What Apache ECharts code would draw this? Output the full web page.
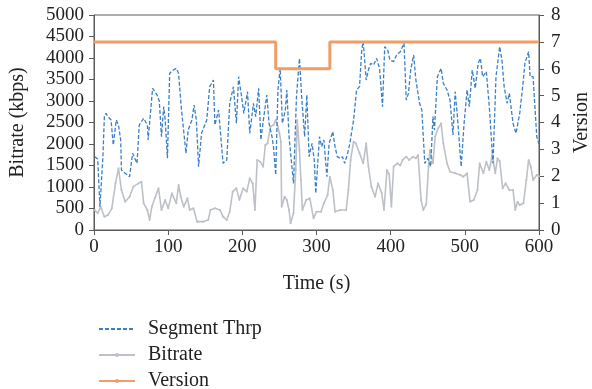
<!DOCTYPE html>
<html>
<head>
<meta charset="utf-8">
<script src="https://cdn.jsdelivr.net/npm/echarts@6/dist/echarts.min.js"></script>
<style>
  html, body { margin: 0; padding: 0; background: #fff; }
  #chart { width: 592px; height: 389px; }
</style>
</head>
<body>
<div id="chart"></div>
<script>
// segment throughput (kbps)
const thrpT = [1, 5, 8, 12, 14, 16, 19, 23, 26, 30, 33, 36, 37, 42, 48, 52, 58, 61, 67, 72, 73, 79, 85, 88, 91, 94, 96, 99,
  102, 107, 111, 114, 118, 124, 127, 132, 135, 138, 141, 145, 152, 156, 161, 163, 168, 174, 179, 183, 188, 192, 195, 199,
  202, 207, 210, 215, 218, 222, 225, 229, 233, 236, 240, 242, 245, 248, 251, 254, 258, 260, 263, 269, 273, 277, 280, 284,
  287, 290, 294, 297, 299, 304, 307, 310, 314, 317, 322, 325, 328, 332, 335, 338, 342, 345, 350, 354, 358, 361, 363, 367,
  370, 373, 377, 381, 385, 389, 392, 396, 399, 404, 408, 413, 418, 421, 424, 427, 431, 434, 439, 442, 446, 450, 454, 457,
  459, 463, 468, 471, 476, 480, 484, 487, 490, 495, 499, 503, 506, 510, 514, 518, 521, 524, 529, 533, 538, 542, 547, 550,
  553, 557, 560, 565, 569, 574, 578, 581, 586, 588, 592, 597, 600];
const thrpV = [1705, 1650, 542, 1700, 2636, 2713, 2636, 2558, 1977, 2558, 2442, 2093, 1395, 1318, 1240, 1783, 1550, 2442, 2597, 2442, 2093, 3295, 3140, 3000, 2170, 2868, 2558, 1667,
  3643, 3721, 3760, 3643, 2791, 1783, 2326, 2558, 2907, 2558, 1473, 2248, 2558, 3333, 3488, 2442, 2791, 1550, 1628, 2946, 3333, 2481, 3566, 3101,
  2713, 3217, 2248, 2946, 2636, 3295, 2093, 2636, 3140, 2481, 2170, 1938, 1279, 3256, 3760, 2481, 2791, 3256, 2170, 1085, 3101, 3992, 3101, 2170,
  3140, 1705, 2015, 1628, 853, 2170, 1938, 2093, 1240, 2015, 2287, 1938, 1705, 1667, 1705, 1550, 1783, 2015, 2558, 3256, 3333, 4186, 4379, 3488,
  3721, 3876, 3837, 3992, 3760, 2868, 4264, 4186, 3950, 3915, 4070, 4147, 4341, 3023, 3178, 3721, 4070, 3488, 2946, 2791, 1550, 1667, 1473, 2636,
  2326, 3566, 3760, 3411, 3256, 3023, 2209, 3217, 2636, 1473, 2481, 3256, 2868, 3721, 3295, 3876, 3992, 3566, 3683, 2868, 1550, 3566, 4264, 3954,
  3333, 2946, 3178, 2481, 2248, 2713, 3333, 3876, 4147, 3566, 3566, 2170, 2000];

// selected bitrate (kbps)
const bitrateT = [1, 5, 9, 14, 19, 24, 29, 33, 37, 42, 48, 53, 60, 64, 67, 72, 75, 78, 82, 87, 91, 96, 100, 105, 111, 114,
  117, 121, 126, 129, 134, 139, 147, 154, 157, 163, 170, 174, 179, 183, 187, 192, 196, 201, 206, 210, 214, 217, 220, 224,
  228, 231, 234, 238, 242, 245, 248, 250, 252, 253, 257, 260, 263, 265, 269, 272, 274, 277, 279, 281, 286, 291, 296, 300,
  306, 310, 315, 318, 322, 325, 332, 340, 343, 346, 350, 353, 358, 363, 367, 370, 374, 379, 383, 388, 391, 395, 398, 401,
  404, 409, 413, 416, 421, 425, 430, 434, 437, 441, 444, 448, 451, 453, 457, 460, 464, 468, 471, 476, 480, 487, 494, 498,
  503, 507, 512, 517, 520, 525, 529, 533, 537, 541, 544, 547, 551, 555, 560, 565, 568, 571, 574, 579, 583, 586, 589, 592,
  597, 600];
const bitrateV = [465, 388, 542, 310, 350, 504, 1085, 1434, 930, 659, 775, 1008, 1085, 1124, 620, 465, 233, 542, 736, 969, 465, 697, 504, 853, 620, 1047,
  775, 542, 736, 465, 504, 194, 194, 233, 465, 504, 465, 310, 233, 426, 891, 969, 700, 969, 891, 1201, 1085, 465, 1628, 1589,
  1473, 1977, 2015, 2403, 2442, 2558, 2400, 2248, 2054, 542, 775, 697, 465, 155, 388, 1395, 2558, 1860, 1163, 465, 697, 736, 271, 426,
  426, 620, 814, 1240, 930, 426, 465, 465, 930, 1628, 2054, 2015, 1783, 1550, 2015, 1473, 1008, 775, 1085, 853, 465, 1395, 1300, 542,
  1473, 1550, 1500, 1628, 1705, 1628, 1705, 1667, 1744, 698, 465, 600, 1473, 1860, 1550, 2170, 2364, 2481, 2015, 1550, 1357, 1318, 1279, 1240,
  1318, 659, 697, 930, 1550, 1318, 1589, 1395, 1750, 1318, 1667, 1600, 969, 1085, 930, 930, 465, 659, 581, 620, 1163, 1628, 1473, 1163,
  1279, 1250];

// version index (right axis)
const versionT = [0, 245, 245, 318, 318, 600];
const versionV = [7, 7, 6, 6, 7, 7];

const zip = (t, v) => t.map((x, i) => [x, v[i]]);

const font = "'Liberation Serif', 'Times New Roman', serif";
const axisColor = "#5a5a5a";
const textColor = "#222";

const chart = echarts.init(document.getElementById("chart"));
chart.setOption({
  animation: false,
  grid: {
    left: 94,
    right: 53,
    top: 15,
    bottom: 159,
    outerBoundsMode: "none",
    show: true,
    borderColor: axisColor,
    borderWidth: 1,
  },
  legend: {
    orient: "vertical",
    left: 93,
    top: 314,
    height: 120,
    itemWidth: 36,
    itemHeight: 5,
    itemGap: 6,
    textStyle: { fontFamily: font, fontSize: 20, color: textColor, padding: [0, 0, 0, 8] },
    data: [
      { name: "Segment Thrp", itemStyle: { opacity: 0 } },
      { name: "Bitrate" },
      { name: "Version" },
    ],
  },
  xAxis: {
    type: "value",
    min: 0,
    max: 600,
    interval: 100,
    name: "Time (s)",
    nameLocation: "middle",
    nameGap: 44,
    nameTextStyle: { fontFamily: font, fontSize: 20, color: textColor },
    axisLine: { lineStyle: { color: axisColor } },
    axisTick: { inside: false, length: 5, lineStyle: { color: axisColor } },
    axisLabel: { fontFamily: font, fontSize: 19, color: textColor, margin: 8 },
    splitLine: { show: false },
  },
  yAxis: [
    {
      type: "value",
      min: 0,
      max: 5000,
      interval: 500,
      name: "Bitrate (kbps)",
      nameLocation: "middle",
      nameGap: 66,
      nameRotate: 90,
      nameTextStyle: { fontFamily: font, fontSize: 20, color: textColor },
      axisLine: { show: true, lineStyle: { color: axisColor } },
      axisTick: { show: true, length: 5, lineStyle: { color: axisColor } },
      axisLabel: { fontFamily: font, fontSize: 19, color: textColor, margin: 10, formatter: (v) => String(v) },
      splitLine: { show: false },
    },
    {
      type: "value",
      min: 0,
      max: 8,
      interval: 1,
      position: "right",
      name: "Version",
      nameLocation: "middle",
      nameGap: 31,
      nameRotate: 90,
      nameTextStyle: { fontFamily: font, fontSize: 20, color: textColor },
      axisLine: { show: true, lineStyle: { color: axisColor } },
      axisTick: { show: true, length: 5, lineStyle: { color: axisColor } },
      axisLabel: { fontFamily: font, fontSize: 19, color: textColor, margin: 12 },
      splitLine: { show: false },
    },
  ],
  series: [
    {
      name: "Segment Thrp",
      type: "line",
      data: zip(thrpT, thrpV),
      symbol: "none",
      z: 4,
      itemStyle: { color: "#3A7FC6" },
      lineStyle: { color: "#3A7FC6", width: 1.3, type: [4, 2] },
    },
    {
      name: "Bitrate",
      type: "line",
      data: zip(bitrateT, bitrateV),
      symbol: "circle",
      symbolSize: 2,
      z: 3,
      itemStyle: { color: "#BDC1C7" },
      lineStyle: { color: "#BDC1C7", width: 1.6 },
    },
    {
      name: "Version",
      type: "line",
      yAxisIndex: 1,
      data: zip(versionT, versionV),
      symbol: "circle",
      symbolSize: 3,
      showSymbol: false,
      z: 5,
      itemStyle: { color: "#EE9E66" },
      lineStyle: { color: "#EE9E66", width: 3 },
    },
  ],
});
</script>
</body>
</html>
